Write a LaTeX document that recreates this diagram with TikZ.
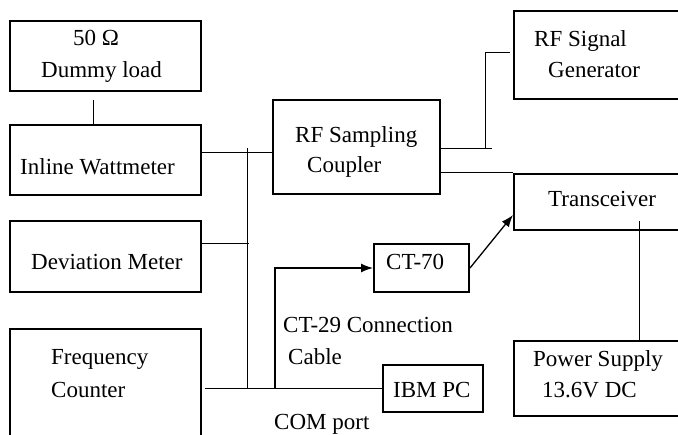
\documentclass[tikz,border=0pt]{standalone}
\usepackage{fontspec}
\setmainfont{Liberation Serif}
\usetikzlibrary{arrows.meta}

\begin{document}
\begin{tikzpicture}[x=1pt, y=-1pt,
    box/.style={draw, line width=2pt, inner sep=0pt},
    lbl/.style={anchor=base west, inner sep=0pt, font=\fontsize{23}{28}\selectfont},
    wire/.style={line width=0.8pt},
    feed/.style={line width=1.3pt, -{Latex[length=12pt,width=9pt]}}]

    \useasboundingbox (0,0) rectangle (678,435);
    \clip (0,0) rectangle (678,435);

    % boxes
    \node[box, minimum width=191pt, minimum height=70pt] (dummy) at (105.5,56) {};
    \node[box, minimum width=191pt, minimum height=70pt] (watt) at (105.5,160) {};
    \node[box, minimum width=191pt, minimum height=71pt] (dev) at (105.5,256.5) {};
    \node[box, minimum width=191pt, minimum height=142pt] (freq) at (105.5,400) {};
    \node[box, minimum width=167pt, minimum height=94pt] (coupler) at (356.5,147) {};
    \node[box, minimum width=186pt, minimum height=88pt] (siggen) at (607,55) {};
    \node[box, minimum width=186pt, minimum height=56pt] (trx) at (607,202) {};
    \node[box, minimum width=186pt, minimum height=75pt] (psu) at (607,378.5) {};
    \node[box, minimum width=95pt, minimum height=48pt] (ct70) at (421.5,268) {};
    \node[box, minimum width=100pt, minimum height=47pt] (ibm) at (433,388.5) {};

    % texts
    \node[lbl] (t50) at (73,46) {50 Ω};
    \node[lbl] (tdummy) at (41,78) {Dummy load};
    \node[lbl] (twatt) at (20,175) {Inline Wattmeter};
    \node[lbl] (tdev) at (31,270) {Deviation Meter};
    \node[lbl] (tfreq) at (51,365) {Frequency};
    \node[lbl] (tcount) at (51,398) {Counter};
    \node[lbl] (trf) at (295,143) {RF Sampling};
    \node[lbl] (tcoup) at (307,173) {Coupler};
    \node[lbl] (tsig) at (534,47) {RF Signal};
    \node[lbl] (tgen) at (548,78) {Generator};
    \node[lbl] (ttrx) at (548,207) {Transceiver};
    \node[lbl] (tct70) at (386,270) {CT-70};
    \node[lbl] (tct29) at (283,333) {CT-29 Connection};
    \node[lbl] (tcable) at (288,365) {Cable};
    \node[lbl] (tcom) at (274,430) {COM port};
    \node[lbl] (tibm) at (393,398) {IBM PC};
    \node[lbl] (tpsu) at (533,367) {Power Supply};
    \node[lbl] (tvolt) at (542,398) {13.6V DC};

    % free ends
    \coordinate (wattTap) at (93,100);
    \coordinate (busTop) at (247,148);
    \coordinate (busBot) at (247,388);
    \coordinate (devTap) at (249,243);
    \coordinate (cntOut) at (205,388);
    \coordinate (pcTap) at (275,388);
    \coordinate (trxIn) at (513,215);
    \coordinate (sgEnd) at (492,148);
    \coordinate (sgBend) at (485,148);
    \coordinate (sgIn) at (510,52);
    \coordinate (psTap) at (639,221);

    % wiring
    \draw[wire] (wattTap) -- (wattTap |- watt.north);
    \draw[wire] (watt.east |- 0,152) -- (coupler.west |- 0,152);
    \draw[wire] (busTop) -- (busBot);
    \draw[wire] (dev.east |- devTap) -- (devTap);
    \draw[wire] (cntOut) -- (ibm.west |- cntOut);
    \draw[feed] (pcTap) |- (ct70.west);
    \draw[feed] (ct70.east) -- (trxIn);
    \draw[wire] (coupler.east |- sgEnd) -- (sgEnd);
    \draw[wire] (sgBend) |- (sgIn);
    \draw[wire] (coupler.east |- 0,172) -- (trx.west |- 0,172);
    \draw[wire] (psTap) -- (psTap |- psu.north);

\end{tikzpicture}
\end{document}
